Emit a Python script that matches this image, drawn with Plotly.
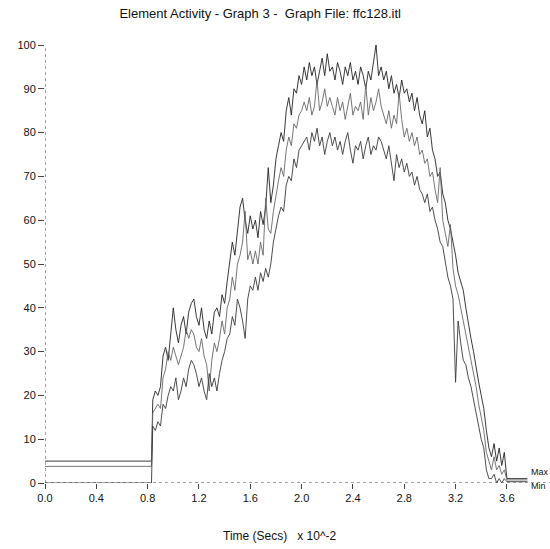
import plotly.graph_objects as go

# ---- data ----
pre_times = [0.0, 0.83]
pre_max = [5, 5]
pre_avg = [3.8, 3.8]
pre_min = [0, 0]

grid_start = 0.84
grid_step = 0.02

max_vals = [
    19, 21, 20, 22, 29, 31, 28, 34, 40, 35,
    32, 36, 38, 34, 39, 41, 42, 38, 36, 40,
    35, 33, 37, 34, 39, 40, 38, 43, 41, 46,
    50, 55, 52, 58, 63, 65, 60, 57, 61, 58,
    60, 56, 62, 59, 63, 72, 64, 68, 74, 77,
    80, 78, 85, 88, 84, 90, 89, 93, 91, 95,
    92, 96, 93, 95, 91, 94, 97, 93, 98, 94,
    95, 92, 96, 94, 91, 95, 93, 96, 92, 94,
    91, 95, 93, 90, 94, 92, 96, 100, 93, 95,
    92, 94, 90, 93, 89, 91, 88, 92, 89, 90,
    87, 89, 85, 88, 84, 82, 85, 79, 81, 76,
    74, 70, 71, 66, 64, 60, 58, 55, 52, 48,
    46, 44, 40, 36, 33, 30, 26, 23, 20, 17,
    12, 8, 6, 9, 5, 8, 4, 7,
]
avg_vals = [
    16, 17, 18, 17, 24, 26, 30, 28, 31, 29,
    27, 29, 31, 35, 33, 35, 34, 31, 30, 33,
    29, 27, 21, 28, 32, 30, 33, 37, 34, 40,
    42, 47, 44, 50, 52, 55, 62, 51, 53, 50,
    53, 50, 55, 52, 65, 58, 57, 62, 66, 69,
    72, 70, 76, 79, 77, 82, 81, 84, 85, 87,
    85, 88, 84, 86, 92, 85, 87, 90, 86, 88,
    86, 84, 88, 85, 87, 83, 86, 89, 84, 86,
    85, 87, 83, 91, 84, 88, 85, 87, 90, 86,
    84, 82, 85, 81, 84, 82, 89, 83, 79, 81,
    78, 80, 77, 79, 75, 76, 73, 74, 70, 71,
    67, 64, 72, 60, 57, 54, 59, 49, 45, 43,
    40, 37, 34, 31, 28, 25, 22, 18, 15, 12,
    7, 5, 3, 6, 3, 4, 2, 3,
]
min_vals = [
    13, 12, 14, 13, 18, 17, 20, 22, 21, 24,
    19, 21, 24, 22, 26, 28, 27, 25, 22, 24,
    21, 19, 25, 22, 24, 21, 25, 28, 30, 33,
    34, 38, 36, 42, 40, 37, 33, 42, 45, 44,
    47, 44, 48, 46, 49, 47, 50, 55, 58, 61,
    63, 62, 68, 70, 69, 74, 72, 76, 77, 78,
    79, 76, 80, 78, 81, 77, 79, 75, 78, 80,
    77, 79, 76, 78, 75, 78, 80, 76, 73, 77,
    76, 78, 74, 77, 79, 75, 77, 76, 79, 78,
    76, 74, 77, 73, 69, 75, 72, 74, 71, 73,
    70, 71, 68, 70, 67, 66, 64, 66, 62, 63,
    60, 58, 55, 54, 50, 47, 45, 42, 23, 37,
    32, 28, 27, 24, 22, 19, 16, 13, 10, 8,
    3, 1, 1, 2, 0, 1, 0, 1,
]

post_times = [3.60, 3.76]
post_max = [1.0, 1.0]
post_avg = [0.7, 0.7]
post_min = [0.3, 0.3]

x_ticks = [0.0, 0.4, 0.8, 1.2, 1.6, 2.0, 2.4, 2.8, 3.2, 3.6]
y_ticks = [0, 10, 20, 30, 40, 50, 60, 70, 80, 90, 100]

# ---- build ----
grid = [round(grid_start + grid_step * i, 4) for i in range(len(max_vals))]
times = pre_times + grid + post_times

series = [
    ("Max", pre_max + max_vals + post_max, "#222222"),
    ("Avg", pre_avg + avg_vals + post_avg, "#666666"),
    ("Min", pre_min + min_vals + post_min, "#3a3a3a"),
]

fig = go.Figure()
for name, vals, col in series:
    fig.add_trace(go.Scatter(
        x=times, y=vals, mode="lines", name=name,
        line=dict(color=col, width=0.9),
        showlegend=False,
    ))

font_family = "Liberation Sans, Arial, sans-serif"

fig.add_annotation(x=3.77, y=1.0, xref="x", yref="y", text="Max",
                   showarrow=False, xanchor="left", yanchor="bottom",
                   font=dict(size=9, color="#111", family=font_family))
fig.add_annotation(x=3.77, y=1.0, xref="x", yref="y", text="Min",
                   showarrow=False, xanchor="left", yanchor="top",
                   font=dict(size=9, color="#111", family=font_family))

# axis lines (dotted, like the scanned original)
fig.add_shape(type="line", xref="x", yref="y", x0=0, x1=3.936, y0=0, y1=0,
              line=dict(color="#444", width=1, dash="dot"))
fig.add_shape(type="line", xref="x", yref="y", x0=0, x1=0, y0=0, y1=100,
              line=dict(color="#444", width=1, dash="dot"))

fig.update_layout(
    width=550, height=549,
    margin=dict(l=45, r=0, t=45, b=66),
    paper_bgcolor="white", plot_bgcolor="white",
    font=dict(family=font_family, size=11, color="#111"),
    title=dict(text="Element Activity - Graph 3 -  Graph File: ffc128.itl",
               x=0.473, xanchor="center", y=0.976, yanchor="middle",
               font=dict(size=13, color="#111", family=font_family)),
    xaxis=dict(range=[0, 3.936], tickvals=x_ticks,
               ticktext=[f"{v:.1f}" for v in x_ticks],
               ticks="outside", ticklen=5, tickcolor="#444",
               showgrid=False, zeroline=False, showline=False,
               tickfont=dict(size=11)),
    yaxis=dict(range=[0, 100], tickvals=y_ticks,
               ticks="outside", ticklen=6, tickcolor="#444",
               showgrid=False, zeroline=False, showline=False,
               tickfont=dict(size=11)),
)

fig.add_annotation(x=0.465, y=-0.12, xref="paper", yref="paper",
                   text="Time (Secs)   x 10^-2", showarrow=False,
                   xanchor="center", yanchor="middle",
                   font=dict(size=12, color="#111", family=font_family))

fig.write_html("out.html")
